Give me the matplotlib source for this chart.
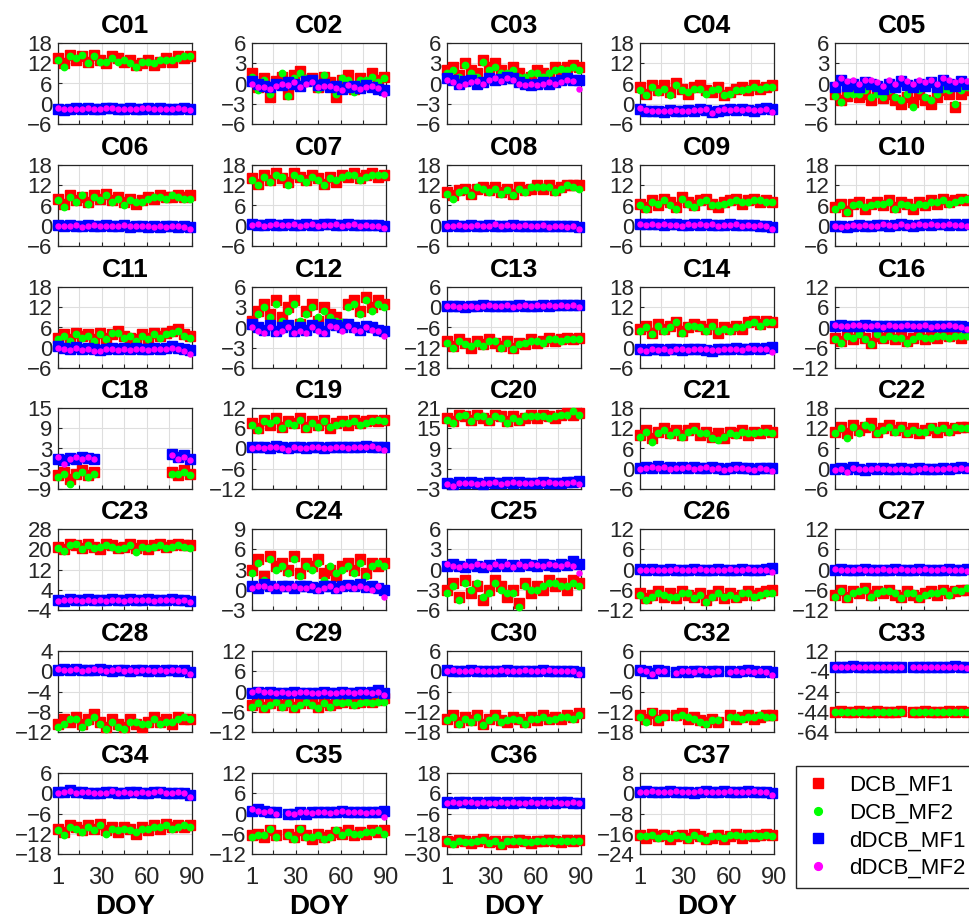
import matplotlib

matplotlib.use("Agg")
import matplotlib.pyplot as plt
import numpy as np
from matplotlib.lines import Line2D

N = np.nan
# sampled days of year, one reading every 4 days
DOY = list(range(1, 90, 4))

PRNS = [
    "C01", "C02", "C03", "C04", "C05",
    "C06", "C07", "C08", "C09", "C10",
    "C11", "C12", "C13", "C14", "C16",
    "C18", "C19", "C20", "C21", "C22",
    "C23", "C24", "C25", "C26", "C27",
    "C28", "C29", "C30", "C32", "C33",
    "C34", "C35", "C36", "C37",
]

Y_TICKS = {
    "C01": [-6, 0, 6, 12, 18], "C02": [-6, -3, 0, 3, 6], "C03": [-6, -3, 0, 3, 6],
    "C04": [-6, 0, 6, 12, 18], "C05": [-6, -3, 0, 3, 6], "C06": [-6, 0, 6, 12, 18],
    "C07": [-6, 0, 6, 12, 18], "C08": [-6, 0, 6, 12, 18], "C09": [-6, 0, 6, 12, 18],
    "C10": [-6, 0, 6, 12, 18], "C11": [-6, 0, 6, 12, 18], "C12": [-6, -3, 0, 3, 6],
    "C13": [-18, -12, -6, 0, 6], "C14": [-6, 0, 6, 12, 18], "C16": [-12, -6, 0, 6, 12],
    "C18": [-9, -3, 3, 9, 15], "C19": [-12, -6, 0, 6, 12], "C20": [-3, 3, 9, 15, 21],
    "C21": [-6, 0, 6, 12, 18], "C22": [-6, 0, 6, 12, 18], "C23": [-4, 4, 12, 20, 28],
    "C24": [-3, 0, 3, 6, 9], "C25": [-6, -3, 0, 3, 6], "C26": [-12, -6, 0, 6, 12],
    "C27": [-12, -6, 0, 6, 12], "C28": [-12, -8, -4, 0, 4], "C29": [-12, -6, 0, 6, 12],
    "C30": [-18, -12, -6, 0, 6], "C32": [-18, -12, -6, 0, 6], "C33": [-64, -44, -24, -4, 16],
    "C34": [-18, -12, -6, 0, 6], "C35": [-12, -6, 0, 6, 12], "C36": [-30, -18, -6, 6, 18],
    "C37": [-24, -16, -8, 0, 8],
}
# the C33 panel prints its top tick as 12
Y_TICK_TEXT = {"C33": ["-64", "-44", "-24", "-4", "12"]}

DCB_MF1 = {
    "C01": [13.5, 12.0, 14.5, 13.0, 14.0, 12.5, 14.5, 13.0, 12.0, 14.0, 13.5, 12.5, 13.0, 11.5, 12.0, 13.0, 11.5, 12.5, 13.5, 12.5, 14.0, 13.5, 14.0],
    "C02": [1.5, -0.5, 0.8, -2.0, 0.3, 1.0, -1.5, 1.2, 1.8, 0.5, 0.8, -0.5, 1.0, 0.2, -2.0, 0.5, 1.2, -0.8, 0.8, 0.0, 1.5, 0.5, 1.0],
    "C03": [2.0, 2.5, 1.2, 3.0, 2.0, 1.5, 3.5, 2.5, 3.0, 2.0, 1.0, 2.5, 1.5, 0.5, 1.0, 2.0, 1.5, 0.8, 2.5, 2.0, 2.5, 2.8, 2.5],
    "C04": [5.0, 3.0, 5.5, 4.0, 5.5, 3.5, 6.0, 4.5, 3.0, 5.0, 5.5, 4.0, 3.5, 5.0, 2.5, 3.5, 4.5, 5.0, 4.0, 5.5, 4.5, 5.0, 5.5],
    "C05": [-1.5, -2.5, -1.8, -1.0, -2.0, -1.5, -2.5, -1.0, -2.2, -1.5, -2.5, -3.0, -2.0, -2.8, -1.5, -2.5, -3.0, -2.0, -1.0, -1.5, -3.5, -1.5, -1.0],
    "C06": [8.0, 6.5, 9.0, 7.5, 8.5, 7.0, 9.0, 8.0, 9.5, 7.5, 8.5, 7.0, 8.0, 6.5, 7.5, 8.5, 8.0, 9.0, 8.5, 8.5, 9.0, 8.5, 9.0],
    "C07": [14.0, 12.5, 15.0, 13.5, 15.5, 14.0, 13.0, 15.5, 14.5, 13.5, 15.0, 14.0, 12.5, 14.5, 13.0, 15.0, 14.5, 15.5, 14.0, 15.0, 15.5, 14.5, 15.0],
    "C08": [10.0, 9.0, 10.5, 11.0, 9.5, 11.0, 11.5, 10.5, 11.5, 10.0, 11.0, 9.5, 11.5, 10.5, 11.0, 12.0, 11.0, 12.0, 10.5, 11.5, 12.0, 12.0, 12.0],
    "C09": [6.5, 5.5, 7.5, 6.0, 8.0, 7.0, 5.5, 8.5, 7.0, 6.0, 7.5, 8.0, 6.5, 5.5, 7.0, 7.5, 8.0, 6.5, 7.5, 8.0, 7.0, 7.5, 7.0],
    "C10": [5.5, 6.5, 4.5, 6.5, 7.0, 5.0, 6.5, 7.0, 6.0, 7.5, 5.5, 7.0, 6.5, 5.0, 7.0, 6.0, 7.5, 6.5, 8.0, 7.0, 7.5, 8.0, 7.5],
    "C11": [3.0, 4.0, 2.5, 4.5, 3.5, 4.0, 2.5, 4.5, 3.0, 4.0, 5.0, 3.5, 3.0, 2.5, 4.0, 3.0, 4.5, 3.5, 4.5, 5.0, 5.5, 4.0, 3.5],
    "C12": [1.0, 2.5, 3.5, 2.0, 4.0, 1.5, 3.0, 4.0, 0.5, 2.5, 3.5, 1.0, 3.0, 2.0, 1.5, 0.5, 3.5, 4.0, 2.5, 4.5, 3.0, 4.0, 3.5],
    "C13": [-10.0, -11.5, -9.5, -10.5, -12.0, -10.0, -11.0, -9.5, -10.5, -11.5, -10.0, -12.0, -10.5, -11.0, -9.5, -10.5, -10.0, -9.0, -10.0, -9.5, -9.0, -9.5, -9.0],
    "C14": [5.5, 6.5, 4.5, 7.0, 5.5, 6.5, 7.5, 5.0, 6.0, 7.0, 6.5, 5.5, 7.0, 4.5, 6.0, 5.5, 6.5, 5.5, 7.5, 8.0, 7.0, 8.0, 7.5],
    "C16": [-3.0, -4.0, -2.0, -3.5, -1.5, -3.0, -4.5, -2.5, -3.0, -2.0, -3.5, -2.5, -4.0, -3.0, -2.0, -3.5, -2.5, -3.0, -2.0, -2.5, -2.0, -3.0, -2.0],
    "C18": [-5.0, -4.0, -6.0, -4.5, -3.5, -5.0, -4.0, N, N, N, N, N, N, N, N, N, N, N, N, -4.0, -5.0, -3.5, -4.5],
    "C19": [7.5, 6.0, 8.5, 7.0, 9.0, 6.5, 8.0, 7.5, 9.0, 6.5, 8.0, 7.0, 8.5, 6.0, 7.5, 8.0, 7.0, 8.5, 7.5, 8.0, 8.5, 8.0, 8.5],
    "C20": [18.0, 17.0, 19.0, 18.5, 17.5, 19.0, 18.0, 17.5, 19.0, 18.5, 17.0, 18.5, 17.5, 18.0, 19.0, 18.0, 19.0, 18.5, 18.0, 19.0, 19.5, 19.0, 19.5],
    "C21": [10.0, 11.5, 9.0, 11.0, 12.0, 10.5, 11.5, 10.0, 11.5, 12.0, 10.0, 11.0, 9.5, 10.5, 9.0, 11.0, 10.5, 11.5, 10.0, 11.0, 10.5, 11.5, 11.0],
    "C22": [11.0, 12.5, 10.5, 13.0, 11.5, 12.5, 13.5, 11.0, 12.0, 13.0, 11.5, 12.5, 11.0, 12.0, 10.5, 11.5, 12.0, 11.0, 12.5, 11.5, 12.0, 12.5, 12.5],
    "C23": [21.0, 20.0, 22.0, 21.5, 20.5, 22.0, 21.0, 20.0, 22.0, 21.5, 20.5, 21.0, 22.0, 20.5, 21.5, 20.0, 21.5, 22.0, 21.0, 21.5, 22.0, 21.5, 21.5],
    "C24": [3.0, 4.5, 2.0, 5.0, 3.5, 4.0, 3.0, 5.0, 2.5, 4.0, 3.5, 4.5, 2.5, 3.0, 2.0, 3.5, 4.0, 3.0, 4.5, 2.5, 4.0, 3.5, 4.0],
    "C25": [-3.0, -2.0, -4.0, -1.5, -3.5, -2.5, -4.5, -3.0, -1.5, -2.5, -4.0, -3.0, -5.0, -2.0, -3.5, -2.5, -3.0, -1.5, -2.5, -2.0, -3.0, -1.5, -2.0],
    "C26": [-7.0, -8.5, -7.5, -6.5, -8.0, -7.0, -8.5, -6.5, -7.5, -8.0, -7.0, -9.0, -7.5, -6.5, -8.5, -7.0, -8.0, -7.5, -6.5, -7.5, -7.0, -6.5, -6.0],
    "C27": [-7.5, -6.0, -8.0, -6.5, -7.0, -5.5, -7.5, -6.5, -7.0, -6.0, -7.5, -8.0, -6.5, -7.5, -8.0, -7.0, -6.5, -7.5, -6.0, -7.0, -6.5, -6.0, -6.0],
    "C28": [-10.5, -9.5, -10.0, -9.0, -10.5, -9.5, -8.5, -10.0, -11.0, -9.5, -10.5, -11.0, -9.5, -10.5, -11.0, -10.0, -9.0, -10.0, -9.5, -10.5, -9.0, -9.5, -9.5],
    "C29": [-4.0, -3.0, -4.5, -3.5, -2.5, -4.0, -3.0, -4.5, -3.5, -2.5, -3.5, -4.5, -3.0, -4.0, -3.5, -3.0, -2.5, -3.5, -3.0, -2.5, -3.0, -2.5, -2.0],
    "C30": [-14.0, -13.0, -15.0, -13.5, -14.5, -13.0, -15.5, -14.0, -13.0, -14.5, -15.0, -13.5, -14.0, -15.0, -13.5, -14.5, -13.0, -14.0, -13.5, -14.0, -13.0, -13.5, -12.5],
    "C32": [-13.0, -14.0, -12.5, -14.5, -13.0, N, -13.0, -12.5, -14.0, -13.5, -14.5, -15.0, -14.0, -15.0, N, -13.0, -14.0, -13.5, -13.0, -14.0, -13.5, -13.0, -13.0],
    "C33": [-44.0, -43.5, -44.5, -44.0, -43.5, -44.0, -44.5, -43.5, -44.0, -44.5, -44.0, -43.5, N, -44.0, -44.5, -43.5, -44.0, -44.5, -44.0, -43.5, -44.0, -43.5, -44.0],
    "C34": [-10.5, -11.5, -9.5, -10.0, -11.0, -9.5, -10.5, -9.0, -11.0, -10.0, -11.5, -10.0, -10.5, -12.0, -10.0, -11.0, -9.5, -10.5, -9.0, -10.0, -9.5, -10.0, -9.5],
    "C35": [-6.5, -6.0, -7.0, -5.0, -6.5, N, -6.0, -7.0, -5.0, -6.5, -7.5, -6.0, -7.0, -6.5, -5.5, -6.0, -5.0, -6.5, -5.5, -6.0, -5.0, -5.5, -5.0],
    "C36": [-22.0, -23.0, -21.5, -22.5, -23.5, -22.0, -21.0, -23.0, -22.5, -24.0, -22.0, -23.0, -21.5, -22.5, -23.5, -22.0, -22.5, -21.5, -22.0, -23.0, -21.5, -22.0, -21.5],
    "C37": [-16.5, -17.5, -16.0, -17.0, -16.5, -18.0, -17.0, -16.5, -17.5, -16.0, -17.0, -18.0, -17.5, -16.5, -18.0, -17.0, -16.0, -17.5, -16.5, -17.0, -16.5, -16.0, -16.5],
}

DCB_MF2 = {
    "C01": [13.0, 11.0, 14.0, 13.5, 14.5, 12.0, 14.0, 12.5, 12.5, 13.5, 12.5, 13.0, 12.0, 11.0, 12.5, 12.5, 12.0, 13.0, 13.0, 13.0, 13.5, 14.0, 14.0],
    "C02": [1.0, -1.0, 0.5, -1.5, 0.0, 1.5, -1.8, 0.8, 1.5, 0.8, 0.2, -0.8, 1.2, -0.5, -1.5, 0.8, 0.5, -1.2, 0.5, 0.5, 1.0, 0.2, 0.8],
    "C03": [1.5, 2.0, 1.0, 2.8, 1.5, 1.0, 3.2, 2.0, 2.5, 1.5, 1.5, 2.0, 1.0, 1.0, 1.5, 1.5, 1.0, 1.5, 2.0, 2.2, 2.0, 2.5, 2.0],
    "C04": [4.0, 2.5, 5.0, 3.5, 4.5, 2.5, 5.5, 4.0, 3.5, 4.5, 4.5, 3.0, 4.0, 4.5, 2.5, 3.0, 4.0, 4.0, 4.5, 5.0, 4.5, 5.0, 5.0],
    "C05": [-1.8, -2.8, -1.5, -1.5, -1.5, -1.0, -2.0, -1.5, -2.0, -1.0, -2.0, -2.5, -1.5, -3.5, -1.0, -2.0, -2.5, -1.5, -0.8, -1.0, -3.0, -1.0, -0.5],
    "C06": [7.5, 5.5, 8.5, 7.0, 9.0, 6.5, 8.5, 7.5, 9.0, 7.0, 8.0, 6.0, 7.5, 7.0, 7.0, 8.0, 8.5, 8.5, 8.0, 9.0, 8.5, 8.0, 8.0],
    "C07": [13.5, 12.0, 14.5, 13.0, 15.0, 14.5, 12.0, 15.0, 14.0, 13.0, 14.5, 13.5, 12.0, 14.0, 13.5, 14.5, 15.0, 15.0, 13.5, 14.5, 15.0, 15.0, 15.0],
    "C08": [9.5, 8.0, 10.0, 10.5, 9.0, 11.5, 11.0, 10.0, 11.0, 9.5, 10.5, 9.0, 11.0, 10.0, 11.5, 11.5, 11.5, 11.5, 10.0, 11.0, 12.0, 11.5, 11.0],
    "C09": [6.0, 5.0, 7.0, 6.5, 7.5, 6.0, 5.0, 8.0, 6.5, 5.5, 7.0, 7.5, 6.0, 6.0, 6.5, 7.0, 7.5, 7.0, 7.0, 7.5, 7.5, 7.0, 7.0],
    "C10": [5.0, 6.0, 4.0, 6.0, 6.5, 5.5, 6.0, 6.5, 6.5, 7.0, 5.0, 6.5, 6.0, 5.5, 6.5, 6.0, 7.0, 7.0, 7.5, 6.5, 7.0, 7.5, 8.0],
    "C11": [2.5, 3.5, 2.0, 4.0, 3.0, 3.5, 2.0, 4.0, 2.5, 4.5, 4.5, 3.0, 3.5, 2.0, 3.5, 2.5, 4.0, 3.0, 4.0, 4.5, 5.0, 3.5, 3.0],
    "C12": [0.5, 2.0, 3.0, 1.5, 3.5, 1.0, 2.5, 3.5, 1.0, 2.0, 3.0, 1.5, 2.5, 1.5, 1.0, 0.8, 3.0, 3.5, 2.0, 4.0, 2.5, 3.5, 3.0],
    "C13": [-10.5, -12.0, -10.0, -11.0, -11.5, -10.5, -11.5, -10.0, -10.0, -12.0, -10.5, -12.5, -11.0, -10.5, -10.0, -10.0, -10.5, -9.5, -9.5, -10.0, -9.5, -9.5, -9.5],
    "C14": [5.0, 6.0, 4.0, 6.5, 5.0, 6.0, 7.5, 4.5, 6.5, 6.5, 6.0, 5.0, 6.5, 5.0, 5.5, 5.0, 6.0, 6.0, 7.0, 7.5, 6.5, 7.5, 7.5],
    "C16": [-3.5, -4.5, -2.5, -3.0, -2.0, -3.5, -5.0, -2.0, -3.5, -2.5, -3.0, -3.0, -4.5, -3.5, -2.5, -3.0, -3.0, -2.5, -2.5, -3.0, -2.5, -2.5, -2.5],
    "C18": [-5.5, -4.5, -7.5, -5.0, -4.0, -5.5, -4.5, N, N, N, N, N, N, N, N, N, N, N, N, -4.5, -4.5, -4.0, -5.0],
    "C19": [7.0, 5.5, 8.0, 7.5, 8.5, 6.0, 7.5, 7.0, 8.5, 6.0, 7.5, 6.5, 8.0, 6.5, 7.0, 7.5, 7.5, 8.0, 7.0, 7.5, 8.0, 8.5, 8.0],
    "C20": [17.5, 16.5, 18.5, 19.0, 17.0, 18.5, 18.5, 17.0, 18.5, 18.0, 16.5, 18.0, 17.0, 18.5, 18.5, 18.5, 18.5, 18.0, 18.5, 19.0, 19.0, 20.0, 19.0],
    "C21": [9.5, 11.0, 8.0, 10.5, 11.5, 10.0, 11.0, 9.5, 11.0, 11.5, 10.5, 10.5, 9.0, 8.5, 9.5, 10.5, 10.0, 11.0, 10.5, 10.5, 11.0, 11.0, 10.5],
    "C22": [10.5, 12.0, 9.0, 12.5, 10.5, 13.0, 12.5, 10.5, 11.5, 12.5, 11.0, 12.0, 10.5, 11.5, 11.0, 11.0, 12.5, 11.5, 12.0, 11.0, 12.5, 12.0, 12.0],
    "C23": [20.5, 19.5, 21.5, 22.0, 20.0, 21.5, 20.5, 21.0, 21.5, 21.0, 20.0, 20.5, 21.5, 19.0, 21.0, 20.5, 21.0, 21.5, 20.5, 21.0, 21.5, 21.0, 20.5],
    "C24": [2.5, 4.0, 1.5, 4.5, 3.0, 3.5, 2.5, 4.5, 2.0, 3.5, 3.0, 4.0, 1.5, 3.5, 2.5, 3.0, 3.5, 2.5, 4.0, 2.0, 3.5, 4.0, 3.5],
    "C25": [-3.5, -2.5, -4.5, -2.0, -3.0, -2.0, -4.0, -3.5, -2.0, -3.0, -3.5, -3.5, -5.5, -2.5, -3.0, -3.0, -2.5, -2.0, -2.0, -2.5, -2.5, -2.0, -2.5],
    "C26": [-7.5, -9.0, -8.0, -7.0, -7.5, -8.0, -8.0, -7.0, -7.0, -8.5, -7.5, -9.5, -8.0, -7.0, -8.0, -7.5, -8.5, -7.0, -7.0, -8.0, -7.5, -7.0, -7.0],
    "C27": [-8.0, -6.5, -8.5, -7.0, -6.5, -6.0, -8.0, -7.0, -6.5, -6.5, -7.0, -8.5, -7.0, -7.0, -8.5, -7.5, -7.0, -7.0, -6.5, -7.5, -6.0, -6.5, -5.5],
    "C28": [-11.0, -10.5, -9.5, -9.5, -11.0, -10.0, -9.0, -10.5, -11.5, -10.0, -11.0, -11.5, -10.0, -10.0, -10.5, -10.5, -9.5, -10.5, -10.0, -10.0, -9.5, -9.0, -9.5],
    "C29": [-4.5, -3.5, -5.0, -4.0, -3.0, -4.5, -3.5, -5.0, -4.0, -3.0, -4.0, -5.0, -3.5, -4.5, -3.0, -3.5, -3.0, -4.0, -3.5, -3.0, -3.5, -3.0, -3.0],
    "C30": [-14.5, -13.5, -15.5, -14.0, -15.0, -13.5, -16.0, -14.5, -13.5, -15.0, -14.5, -14.0, -14.5, -15.5, -14.0, -14.0, -13.5, -14.5, -14.0, -13.5, -13.5, -14.0, -13.0],
    "C32": [-13.5, -15.0, -12.0, -14.0, -13.5, N, -13.5, -13.0, -13.5, -14.0, -15.0, -15.5, -14.5, -14.5, N, -13.5, -13.5, -14.0, -13.5, -13.5, -13.0, -13.5, -13.5],
    "C33": [-44.5, -44.0, -44.0, -44.5, -44.0, -44.5, -44.0, -44.0, -44.5, -44.0, -44.5, -44.0, N, -44.5, -44.0, -44.0, -44.5, -44.0, -44.5, -44.0, -44.5, -44.0, -44.0],
    "C34": [-11.0, -12.5, -10.0, -10.5, -11.5, -10.0, -11.0, -9.5, -12.0, -10.5, -11.0, -10.5, -11.0, -11.5, -10.5, -10.5, -10.0, -10.0, -9.5, -10.5, -10.0, -9.5, -10.0],
    "C35": [-7.0, -6.5, -6.5, -4.5, -7.0, N, -6.5, -7.5, -4.5, -7.0, -7.0, -6.5, -7.5, -7.0, -5.0, -6.5, -5.5, -6.0, -6.0, -5.5, -5.5, -5.0, -6.0],
    "C36": [-22.5, -24.0, -22.0, -23.0, -23.0, -22.5, -21.5, -23.5, -22.0, -24.5, -22.5, -22.5, -22.0, -23.0, -23.0, -22.5, -22.0, -22.0, -22.5, -22.5, -22.0, -22.5, -22.0],
    "C37": [-17.0, -17.0, -16.5, -17.5, -17.0, -17.5, -16.5, -17.0, -18.0, -16.5, -17.5, -18.5, -17.0, -17.0, -17.5, -16.5, -16.5, -17.0, -17.0, -16.5, -17.0, -16.5, -17.0],
}

DDCB_MF1 = {
    "C01": [-1.5, -1.8, -1.6, -1.4, -1.6, -1.3, -1.5, -1.7, -1.4, -1.3, -1.6, -1.5, -1.4, -1.7, -1.5, -1.3, -1.6, -1.4, -1.5, -1.7, -1.5, -1.4, -1.6],
    "C02": [0.3, 0.0, -0.3, -0.5, 0.0, -0.2, 0.2, 0.0, -0.3, 0.3, 0.5, -0.2, 0.0, -0.5, -0.3, -0.8, -0.5, -0.3, -0.6, -0.2, -0.5, -0.8, -1.0],
    "C03": [0.8, 0.5, 0.0, 0.3, 0.5, 0.0, 0.2, 0.8, 0.5, 0.6, 1.0, 0.8, 0.2, 0.0, -0.2, 0.0, 0.2, 0.0, 0.2, 0.5, 0.8, 0.5, 0.5],
    "C04": [-1.5, -2.0, -2.2, -2.0, -2.3, -1.8, -2.0, -2.2, -1.8, -2.0, -1.5, -1.8, -2.5, -2.0, -1.8, -1.5, -1.8, -1.5, -1.8, -2.0, -1.5, -1.3, -1.5],
    "C05": [-0.5, 0.5, -0.3, 0.0, -0.5, 0.2, 0.0, -0.3, -0.8, 0.0, -0.5, 0.3, -0.2, -0.5, 0.0, -0.3, 0.2, -0.5, 0.5, 0.0, -0.3, 0.3, 0.0],
    "C06": [0.2, 0.0, 0.3, 0.0, -0.2, 0.2, 0.0, -0.1, 0.2, 0.0, -0.2, 0.1, -0.3, 0.0, -0.2, -0.3, -0.2, -0.3, -0.1, -0.2, -0.3, -0.2, -0.5],
    "C07": [0.5, 0.3, 0.2, 0.4, 0.2, 0.3, 0.5, 0.3, 0.2, 0.4, 0.3, 0.2, 0.4, 0.5, 0.3, 0.2, 0.4, 0.3, 0.2, 0.3, 0.2, 0.1, 0.0],
    "C08": [0.0, 0.2, -0.2, 0.0, 0.3, 0.0, -0.2, 0.2, 0.0, -0.2, 0.0, 0.2, 0.0, -0.2, 0.0, -0.1, 0.0, -0.2, 0.0, -0.2, -0.1, -0.2, -0.3],
    "C09": [0.6, 0.5, 0.4, 0.5, 0.3, 0.5, 0.4, 0.2, 0.3, 0.4, 0.3, 0.5, 0.2, 0.3, 0.2, 0.4, 0.2, 0.3, 0.1, 0.2, 0.0, -0.2, -0.3],
    "C10": [-0.2, 0.0, -0.3, 0.0, 0.2, 0.0, -0.2, 0.2, 0.3, 0.0, 0.2, 0.4, 0.2, 0.0, 0.3, 0.5, 0.3, 0.5, 0.4, 0.2, 0.5, 0.3, 0.4],
    "C11": [0.5, 0.0, -0.5, 0.3, -0.3, 0.0, -0.5, -0.8, -0.3, 0.0, -0.5, -0.2, -0.5, 0.0, -0.3, -0.5, 0.0, -0.3, 0.0, 0.5, 0.0, -0.5, -0.8],
    "C12": [0.5, 0.0, -0.3, 0.3, -0.5, 0.0, 0.3, -0.5, 0.0, -0.3, 0.3, 0.0, -0.5, 0.5, 0.3, 0.0, 0.5, 0.0, -0.3, 0.2, 0.0, -0.3, -0.5],
    "C13": [0.5, 0.3, 0.5, 0.2, 0.3, 0.5, 0.6, 0.4, 0.5, 0.3, 0.5, 0.4, 0.6, 0.5, 0.4, 0.5, 0.6, 0.5, 0.7, 0.6, 0.8, 0.7, 0.6],
    "C14": [-0.5, -0.8, -0.3, -0.5, -0.8, -0.5, -0.3, -0.8, -0.5, -0.3, -0.5, -0.8, -1.0, -0.5, -0.3, -0.5, -0.2, -0.5, -0.3, 0.0, -0.3, 0.0, 0.2],
    "C16": [0.5, 0.8, 0.5, 0.3, 0.5, 0.6, 0.5, 0.3, 0.4, 0.5, 0.3, 0.5, 0.4, 0.5, 0.3, 0.5, 0.4, 0.3, 0.5, 0.4, 0.3, 0.4, 0.2],
    "C18": [0.0, -0.5, 0.3, 0.0, 0.5, 0.2, 0.0, N, N, N, N, N, N, N, N, N, N, N, N, 1.5, 0.5, 1.0, 0.0],
    "C19": [0.5, 0.3, 0.5, 0.2, 0.6, 0.3, 0.0, 0.3, 0.5, 0.2, 0.4, 0.3, 0.2, 0.4, 0.3, 0.5, 0.3, 0.4, 0.5, 0.6, 0.5, 0.4, 0.3],
    "C20": [-1.2, -1.5, -1.0, -1.3, -1.0, -1.2, -1.4, -1.0, -1.2, -1.3, -1.0, -1.2, -1.0, -1.3, -1.1, -1.2, -1.0, -1.2, -1.1, -1.3, -1.0, -0.8, -0.5],
    "C21": [0.3, 0.5, 0.2, 0.8, 0.3, 0.5, 0.2, 0.4, 0.3, 0.5, 0.2, 0.3, 0.5, 0.2, 0.0, 0.3, 0.4, 0.2, 0.3, 0.0, 0.3, 0.2, 0.3],
    "C22": [0.0, 0.3, -0.2, 0.5, 0.0, -0.3, 0.2, 0.0, 0.3, -0.2, 0.0, 0.2, -0.2, 0.0, 0.2, 0.0, -0.2, 0.0, 0.2, 0.0, 0.3, 0.5, 0.2],
    "C23": [0.0, -0.3, 0.2, -0.2, 0.0, 0.3, 0.0, -0.2, 0.0, 0.2, -0.2, 0.0, 0.3, 0.0, -0.2, 0.2, 0.0, -0.2, 0.0, 0.2, 0.0, -0.2, -0.3],
    "C24": [0.5, 0.3, 0.8, 0.5, 0.3, 0.6, 0.5, 0.3, 0.5, 0.6, 0.4, 0.3, 0.5, 0.6, 0.3, 0.5, 0.7, 0.5, 0.8, 0.4, 0.6, 0.3, 0.0],
    "C25": [0.5, 0.8, 0.5, 0.3, 0.8, 0.5, 0.3, 0.6, 0.5, 0.8, 0.5, 0.6, 0.5, 0.8, 0.6, 0.5, 0.8, 0.6, 0.5, 0.8, 0.6, 1.2, 0.8],
    "C26": [0.2, 0.0, 0.2, -0.2, 0.0, 0.2, 0.0, -0.2, 0.0, 0.2, 0.0, -0.2, 0.0, 0.2, 0.0, -0.2, 0.0, 0.2, 0.0, -0.2, 0.0, 0.2, 0.5],
    "C27": [0.0, 0.2, 0.0, -0.2, 0.0, 0.2, 0.0, -0.2, 0.0, 0.0, 0.2, 0.0, -0.2, 0.0, 0.2, 0.0, -0.2, 0.0, 0.0, 0.2, 0.0, 0.0, 0.2],
    "C28": [0.3, 0.5, 0.2, 0.4, 0.2, 0.3, 0.2, 0.4, 0.2, 0.0, 0.3, 0.2, 0.0, 0.2, 0.3, 0.0, 0.2, 0.0, 0.3, 0.2, 0.0, 0.2, -0.2],
    "C29": [-0.3, 0.0, -0.5, -0.2, -0.5, -0.3, -0.5, -0.2, -0.5, -0.3, -0.5, -0.3, -0.2, -0.5, -0.3, 0.0, -0.3, -0.5, -0.2, -0.3, 0.0, 0.5, -0.5],
    "C30": [0.3, 0.0, 0.2, 0.0, 0.3, 0.0, 0.2, 0.0, 0.2, 0.0, 0.3, 0.0, 0.2, 0.0, 0.2, 0.0, 0.3, 0.0, 0.2, 0.0, 0.2, 0.0, -0.2],
    "C32": [0.3, 0.0, -0.5, 0.5, 0.0, N, -0.3, 0.0, -0.2, 0.2, 0.0, -0.3, 0.0, 0.2, N, 0.0, -0.2, 0.0, 0.3, 0.0, -0.2, 0.2, -0.3],
    "C33": [0.5, 0.0, 0.5, 1.0, 0.5, 0.0, 0.5, 0.0, 0.5, 0.0, 0.5, 0.0, N, 0.5, 0.0, 0.5, 0.0, 0.5, 0.0, 0.5, 1.0, 0.5, 0.5],
    "C34": [0.5, 0.3, 1.0, 0.5, 0.3, 0.0, 0.2, 0.0, 0.3, 0.5, 0.2, 0.0, 0.5, 0.3, 0.0, 0.2, 0.5, 0.3, 0.0, 0.2, 0.0, 0.2, -0.5],
    "C35": [0.8, 1.2, 0.8, 0.5, 0.3, N, -0.2, 0.0, 0.3, 0.0, 0.3, 0.5, 0.3, 0.3, 0.5, 0.8, 0.5, 0.3, 0.5, 0.3, 0.3, 0.5, 0.8],
    "C36": [1.0, 0.5, 1.0, 0.8, 0.5, 1.0, 0.5, 0.8, 1.0, 0.5, 0.8, 0.5, 1.0, 0.8, 0.5, 1.0, 0.5, 0.8, 0.5, 1.0, 0.8, 0.5, 0.5],
    "C37": [0.5, 0.8, 0.5, 0.3, 0.5, 0.8, 0.5, 0.3, 0.5, 0.2, 0.5, 0.8, 0.3, 0.5, 0.8, 0.5, 0.3, 0.5, 0.8, 0.5, 0.3, 0.5, 0.0],
}

DDCB_MF2 = {
    "C01": [-1.4, -1.7, -1.5, -1.5, -1.5, -1.4, -1.6, -1.6, -1.3, -1.4, -1.5, -1.6, -1.5, -1.6, -1.4, -1.4, -1.5, -1.5, -1.6, -1.6, -1.4, -1.5, -1.8],
    "C02": [0.0, -0.5, -0.5, -0.8, -0.3, 0.0, -0.2, 0.2, -0.5, 0.0, 0.2, -0.5, -0.3, -0.3, -0.6, -1.0, -0.2, -0.5, -0.8, -0.5, -0.3, -0.6, -1.5],
    "C03": [0.5, 0.2, -0.3, 0.0, 0.2, 0.3, 0.0, 0.5, 0.8, 0.3, 0.8, 0.5, 0.0, -0.2, 0.0, -0.2, 0.0, 0.2, 0.0, 0.2, 0.5, 0.3, -0.8],
    "C04": [-1.2, -1.8, -2.0, -2.2, -2.0, -2.0, -1.8, -2.0, -2.0, -1.8, -1.8, -1.5, -2.8, -1.8, -1.5, -1.8, -1.5, -1.8, -1.5, -1.8, -1.8, -1.5, -2.5],
    "C05": [0.0, 0.8, 0.3, 0.5, 0.0, 0.5, 0.5, 0.2, -0.3, 0.5, 0.0, 0.8, 0.3, 0.0, 0.5, 0.2, 0.5, 0.0, 0.8, 0.5, 0.2, 0.5, 0.3],
    "C06": [0.0, -0.2, 0.0, 0.2, -0.3, 0.0, 0.3, -0.2, 0.0, -0.2, 0.0, 0.2, -0.2, -0.2, 0.0, -0.2, -0.4, -0.2, -0.3, -0.2, -0.2, -0.3, -1.0],
    "C07": [0.3, 0.5, 0.0, 0.2, 0.4, 0.1, 0.3, 0.5, 0.0, 0.2, 0.5, 0.0, 0.2, 0.3, 0.5, 0.0, 0.2, 0.5, 0.0, 0.2, 0.0, 0.0, -0.8],
    "C08": [-0.2, 0.0, 0.2, -0.2, 0.0, 0.3, 0.0, 0.0, 0.5, 0.0, 0.2, 0.0, -0.2, 0.3, -0.2, 0.0, 0.2, -0.3, -0.2, 0.0, -0.3, -0.2, -1.0],
    "C09": [0.5, 0.3, 0.5, 0.2, 0.5, 0.3, 0.2, 0.0, 0.5, 0.2, 0.5, 0.2, 0.5, 0.0, 0.3, 0.2, 0.5, 0.0, 0.2, 0.0, 0.2, -0.2, -1.0],
    "C10": [0.0, -0.3, 0.0, 0.2, 0.0, 0.3, 0.0, 0.0, 0.5, 0.2, 0.0, 0.5, 0.0, 0.2, 0.5, 0.2, 0.5, 0.3, 0.2, 0.5, 0.3, 0.2, 0.0],
    "C11": [0.0, -0.5, -0.8, 0.0, -0.8, -0.5, -1.0, -1.0, -0.5, -0.3, -0.8, -0.5, -0.8, -0.3, -0.5, -0.8, -0.3, -0.5, -0.3, 0.0, -0.5, -1.0, -2.0],
    "C12": [0.0, -0.5, -0.8, 0.0, -0.8, -0.5, 0.0, -0.8, -0.5, -0.8, 0.0, -0.5, -0.8, 0.2, 0.0, -0.5, 0.2, -0.3, -0.5, 0.0, -0.3, -0.5, -1.2],
    "C13": [0.3, 0.5, 0.2, 0.4, 0.5, 0.2, 0.4, 0.6, 0.3, 0.5, 0.7, 0.2, 0.4, 0.6, 0.3, 0.7, 0.4, 0.6, 0.5, 0.8, 0.5, 0.6, 0.0],
    "C14": [-0.8, -1.0, -0.5, -0.8, -0.5, -1.0, -0.5, -0.5, -0.8, -0.5, -0.3, -0.5, -0.8, -0.8, -0.5, -0.3, -0.5, -0.8, 0.0, -0.3, -0.5, -0.3, -1.2],
    "C16": [0.8, 0.5, 0.3, 0.6, 0.8, 0.3, 0.5, 0.6, 0.2, 0.8, 0.5, 0.3, 0.6, 0.3, 0.5, 0.6, 0.2, 0.5, 0.3, 0.6, 0.5, 0.2, -0.5],
    "C18": [0.5, -1.5, 0.0, 0.5, 0.0, 0.5, 0.0, N, N, N, N, N, N, N, N, N, N, N, N, 1.0, 0.0, 0.5, -0.5],
    "C19": [0.2, 0.5, 0.0, 0.4, 0.3, 0.0, -0.5, 0.5, 0.2, 0.0, 0.3, 0.5, 0.0, 0.2, 0.5, 0.3, 0.2, 0.5, 0.3, 0.4, 0.6, 0.2, -0.5],
    "C20": [-1.4, -2.0, -1.3, -1.1, -1.2, -1.4, -1.2, -1.3, -1.0, -1.5, -1.2, -1.0, -1.3, -1.1, -1.3, -1.0, -1.3, -1.0, -1.3, -1.1, -1.2, -1.0, -1.5],
    "C21": [0.0, 0.3, 0.5, 0.2, 0.5, 0.0, 0.3, 0.2, 0.5, 0.0, 0.3, 0.5, 0.0, 0.3, -0.5, 0.0, 0.2, 0.3, 0.0, -0.3, 0.2, 0.0, -0.8],
    "C22": [-0.3, 0.0, -1.0, 0.2, -0.2, 0.0, -0.2, 0.3, 0.0, 0.0, -0.2, 0.0, 0.0, -0.3, 0.0, 0.2, 0.0, -0.2, 0.0, 0.2, 0.0, 0.2, 0.0],
    "C23": [-0.3, 0.0, -0.2, 0.0, -0.3, 0.0, -0.3, 0.0, -0.3, 0.0, 0.0, -0.3, 0.0, -0.2, 0.0, 0.0, -0.3, 0.0, -0.2, 0.0, -0.3, -0.2, -1.0],
    "C24": [0.2, 0.5, 0.5, 0.2, 0.5, 0.3, 0.2, 0.5, 0.3, 0.2, 0.5, 0.0, 0.3, 0.5, 0.0, 0.2, 0.5, 0.3, 0.5, 0.2, 0.0, 0.5, -1.0],
    "C25": [0.8, 0.5, 0.3, 0.6, 0.5, 0.8, 0.6, 0.3, 0.8, 0.5, 0.8, 0.4, 0.8, 0.5, 0.8, 0.6, 0.5, 0.8, 0.6, 0.5, 0.8, 0.5, -0.5],
    "C26": [0.0, -0.2, 0.0, 0.0, -0.2, 0.0, 0.2, 0.0, -0.2, 0.0, 0.2, 0.0, -0.2, 0.0, 0.0, 0.2, -0.2, 0.0, 0.2, 0.0, -0.2, 0.0, -0.8],
    "C27": [0.2, 0.0, -0.2, 0.0, 0.2, 0.0, -0.2, 0.0, 0.2, -0.2, 0.0, 0.2, 0.0, -0.2, 0.0, 0.2, 0.0, 0.0, 0.2, 0.0, -0.2, 0.0, -0.5],
    "C28": [0.5, 0.2, 0.3, 0.5, 0.0, 0.2, 0.4, 0.2, 0.0, 0.3, 0.5, 0.0, 0.3, 0.0, 0.2, 0.2, 0.0, 0.3, 0.0, 0.2, 0.3, 0.0, -0.5],
    "C29": [0.0, 0.3, -0.2, 0.0, -0.3, 0.0, -0.3, -0.5, -0.2, 0.0, -0.3, -0.5, 0.0, -0.3, -0.5, -0.2, 0.0, -0.3, 0.0, -0.2, -0.3, 0.0, -1.0],
    "C30": [0.0, 0.3, 0.0, 0.2, 0.0, 0.3, 0.0, 0.2, 0.0, 0.3, 0.0, 0.2, 0.0, 0.3, 0.0, 0.2, 0.0, 0.3, 0.0, 0.2, 0.0, 0.2, -0.8],
    "C32": [0.5, 0.2, -0.8, 0.0, 0.2, N, -0.5, 0.2, 0.0, -0.3, 0.3, 0.0, -0.3, 0.0, N, -0.3, 0.0, -0.3, 0.0, -0.3, 0.0, -0.2, -1.0],
    "C33": [0.0, 0.5, 0.0, 0.5, 0.0, 0.5, 0.0, 0.5, 0.0, 0.5, 0.0, 0.5, N, 0.0, 0.5, 0.0, 0.5, 0.0, 0.5, 0.0, 0.5, 0.0, -0.5],
    "C34": [0.2, 0.5, 0.8, 0.2, 0.5, 0.3, 0.0, 0.2, 0.0, 0.8, 0.0, 0.3, 0.2, 0.0, 0.3, 0.0, 0.3, 0.8, 0.2, 0.0, 0.3, 0.0, -1.0],
    "C35": [1.2, 0.8, 0.3, 0.8, 0.0, N, 0.2, -0.2, 0.3, 0.5, 0.2, 0.3, 0.5, 0.2, 0.3, 0.8, 0.3, 0.5, 0.3, 0.2, 0.5, 0.3, -1.0],
    "C36": [0.5, 0.8, 0.5, 1.0, 0.8, 0.5, 0.8, 0.5, 0.5, 1.0, 0.5, 0.8, 0.5, 0.5, 1.0, 0.5, 0.8, 0.5, 0.8, 0.5, 0.5, 0.8, 0.0],
    "C37": [0.3, 0.5, 0.8, 0.5, 0.3, 0.5, 0.8, 0.5, 0.3, 0.5, 0.8, 0.5, 0.5, 0.3, 0.5, 0.8, 0.5, 0.3, 0.5, 0.8, 0.5, 0.3, -0.5],
}

SERIES_NAMES = ["DCB_MF1", "DCB_MF2", "dDCB_MF1", "dDCB_MF2"]
SERIES_DATA = [DCB_MF1, DCB_MF2, DDCB_MF1, DDCB_MF2]

# marker, colour, size for each series
STYLES = [("s", "#ff0000", 6.6), ("o", "#00ff00", 4.6), ("s", "#0000ff", 6.6), ("o", "#ff00ff", 3.6)]
LEGEND_SIZES = [7.6, 5.6, 7.6, 5.6]

X_TICKS = [1, 15, 30, 45, 60, 75, 90]
X_LABELS = ["1", "", "30", "", "60", "", "90"]

plt.rcParams["font.family"] = ["Liberation Sans", "DejaVu Sans"]

W, H = 970, 921
COL_X = [58, 252, 447, 640, 835]
ROW_Y = [43, 165, 287, 408, 529, 651, 773]
AX_W, AX_H = 134, 81

fig = plt.figure(figsize=(W / 100, H / 100), dpi=100)

for i, prn in enumerate(PRNS):
    row, col = divmod(i, 5)
    ax = fig.add_axes([COL_X[col] / W, 1 - (ROW_Y[row] + AX_H) / H, AX_W / W, AX_H / H])
    for data, (marker, color, ms) in zip(SERIES_DATA, STYLES):
        ax.plot(DOY, data[prn], linestyle="none", marker=marker, ms=ms,
                color=color, mec=color, clip_on=False, zorder=3)

    yt = Y_TICKS[prn]
    ax.set_ylim(yt[0], yt[-1])
    ax.set_yticks(yt)
    if prn in Y_TICK_TEXT:
        ax.set_yticklabels(Y_TICK_TEXT[prn])
    ax.set_xlim(1, 90)
    ax.set_xticks(X_TICKS)
    last_row = row == len(ROW_Y) - 1
    ax.set_xticklabels(X_LABELS if last_row else [])
    if last_row:
        ax.set_xlabel("DOY", fontsize=20, fontweight="bold", labelpad=4)

    ax.set_title(prn, fontsize=19, fontweight="bold", pad=7)
    ax.grid(True, color="#dedede", linewidth=0.8)
    ax.set_axisbelow(True)
    ax.tick_params(direction="in", length=3, labelsize=16, colors="#262626")
    ax.tick_params(axis="y", pad=4)
    ax.tick_params(axis="x", pad=9, labelsize=17)
    for spine in ax.spines.values():
        spine.set_color("#262626")
        spine.set_linewidth(0.9)

handles = [
    Line2D([], [], linestyle="none", marker=m, ms=s, color=c, mec=c)
    for (m, c, _), s in zip(STYLES, LEGEND_SIZES)
]
fig.legend(handles, SERIES_NAMES, loc="upper left", bbox_to_anchor=(796 / W, 1 - 766 / H),
           fontsize=16, frameon=True, fancybox=False, edgecolor="#262626", framealpha=1,
           handlelength=1.2, handletextpad=0.8, labelspacing=0.3, borderpad=0.4,
           borderaxespad=0)

fig.savefig("out.png", dpi=100)
